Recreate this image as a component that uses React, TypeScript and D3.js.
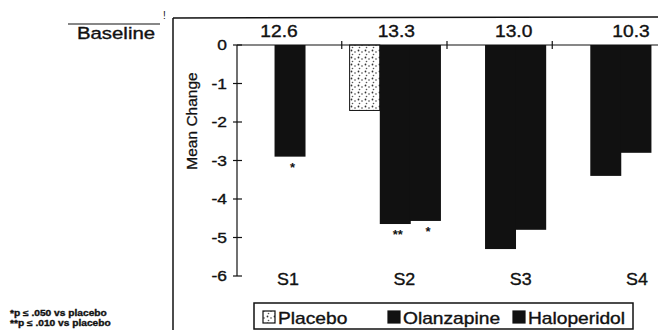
import React from 'react'
import * as d3 from 'd3'

// data
const categories = ['S1', 'S2', 'S3', 'S4']
const baselineValues = ['12.6', '13.3', '13.0', '10.3']
const seriesNames = ['Placebo', 'Olanzapine', 'Haloperidol']
const placebo = [null, -1.7, null, null]
const olanzapine = [-2.9, -4.65, -5.3, -3.4]
const haloperidol = [null, -4.57, -4.8, -2.8]
const stars = [['', '*', ''], ['', '**', '*'], ['', '', ''], ['', '', '']]
const yTicks = [0, -1, -2, -3, -4, -5, -6]
const footnotes = ['*p \u2264 .050 vs placebo', '**p \u2264 .010 vs placebo']

const seriesValues = [placebo, olanzapine, haloperidol]
const FONT = '"Liberation Sans", Arial, Helvetica, sans-serif'

// scanned chart text is horizontally stretched and a bit heavy
const SText = ({x, y, sx = 1.2, size = 16, anchor = 'middle', weight = 'normal', children}) => (
  <text transform={`translate(${x},${y}) scale(${sx},1)`} fontSize={size} fontFamily={FONT}
        textAnchor={anchor} fontWeight={weight} fill="#111" stroke="#111" strokeWidth={0.35}>{children}</text>
)

const Swatch = ({x, y, name}) => (
  <rect x={x} y={y} width={12} height={12}
        fill={name === 'Placebo' ? 'url(#stipple)' : '#111'} stroke="#111" strokeWidth={1.2} />
)

export default function App() {
  const width = 658, height = 330
  const axisX = 237

  const x = d3.scaleBand().domain(categories).range([axisX, width]).paddingInner(0.14).paddingOuter(0.07)
  const xInner = d3.scaleBand().domain(seriesNames).range([0, x.bandwidth()])
  const y = d3.scaleLinear().domain([0, -6]).range([45, 276])

  const labelX = d3.scalePoint().domain(categories).range([288, 637])
  const baseX = d3.scalePoint().domain(categories).range([279, 631])
  const legendX = d3.scalePoint().domain(seriesNames).range([263, 513])

  // boundaries between category bands
  const boundaries = categories.slice(1).map(c => x(c) - x.step() * x.paddingInner() / 2 - 0.5)

  return (
    <svg width={width} height={height} style={{position: 'absolute', left: 0, top: 0, background: '#fff'}}>
      <defs>
        <pattern id="stipple" width="7" height="7" patternUnits="userSpaceOnUse">
          <rect width="7" height="7" fill="#fff" />
          <circle cx="1.5" cy="1.5" r="0.9" fill="#333" />
          <circle cx="5" cy="3" r="0.8" fill="#444" />
          <circle cx="2.5" cy="5.5" r="0.8" fill="#555" />
        </pattern>
      </defs>

      {/* frame */}
      <line x1={173} x2={width} y1={18} y2={17} stroke="#111" strokeWidth={1.5} />
      <line x1={173} x2={173} y1={18} y2={height} stroke="#111" strokeWidth={1.5} />
      <line x1={68} x2={160} y1={24} y2={24} stroke="#111" strokeWidth={1.2} />
      <text x={163} y={19} fontSize={10} fontFamily={FONT} fill="#111">!</text>
      <SText x={116} y={39} size={17}>Baseline</SText>

      {categories.map((c, i) => (
        <SText key={c} x={baseX(c)} y={37} size={16}>{baselineValues[i]}</SText>
      ))}

      {/* bars */}
      {categories.map((c, i) => seriesNames.map((s, j) => {
        const v = seriesValues[j][i]
        if (v === null) return null
        const isPlacebo = s === 'Placebo'
        return (
          <g key={c + s}>
            <rect x={x(c) + xInner(s)} y={y(0)} width={xInner.bandwidth() + (isPlacebo ? 0 : 0.8)} height={y(v) - y(0)}
                  fill={isPlacebo ? 'url(#stipple)' : '#111'}
                  stroke="#111" strokeWidth={isPlacebo ? 1 : 0} />
            {stars[i][j] && (
              <text x={x(c) + xInner(s) + xInner.bandwidth() / 2 + 3} y={y(v) + 15}
                    fontSize={13} fontFamily={FONT} fontWeight="bold" textAnchor="middle" fill="#111">{stars[i][j]}</text>
            )}
          </g>
        )
      }))}

      {/* x axis at zero */}
      <line x1={axisX} x2={width} y1={y(0)} y2={y(0)} stroke="#111" strokeWidth={1.2} />
      {boundaries.map((b, i) => (
        <line key={i} x1={b} x2={b} y1={y(0) - 4} y2={y(0) + 4} stroke="#111" strokeWidth={1.2} />
      ))}

      {/* y axis */}
      <line x1={axisX} x2={axisX} y1={y(0)} y2={y(-6)} stroke="#111" strokeWidth={1.2} />
      {yTicks.map(t => (
        <g key={t}>
          <line x1={axisX - 4} x2={axisX + 5} y1={y(t)} y2={y(t)} stroke="#111" strokeWidth={1.2} />
          <SText x={227} y={y(t) + 5} size={14.5} anchor="end">{t}</SText>
        </g>
      ))}
      <text transform={`translate(197,${121}) rotate(-90)`} fontSize={15.5} fontFamily={FONT}
            textAnchor="middle" fill="#111" stroke="#111" strokeWidth={0.3}>Mean Change</text>

      {categories.map(c => (
        <SText key={c} x={labelX(c)} y={285} size={17} sx={1.05}>{c}</SText>
      ))}

      {/* legend */}
      <rect x={254} y={303} width={379} height={26} fill="none" stroke="#111" strokeWidth={1.5} />
      {seriesNames.map(s => (
        <g key={s}>
          <Swatch x={legendX(s)} y={311} name={s} />
          <SText x={legendX(s) + 15} y={324} size={16} anchor="start">{s}</SText>
        </g>
      ))}

      {/* footnotes */}
      {footnotes.map((f, i) => (
        <SText key={f} x={10} y={316 + i * 10} size={8.5} weight="bold" anchor="start">{f}</SText>
      ))}
    </svg>
  )
}
